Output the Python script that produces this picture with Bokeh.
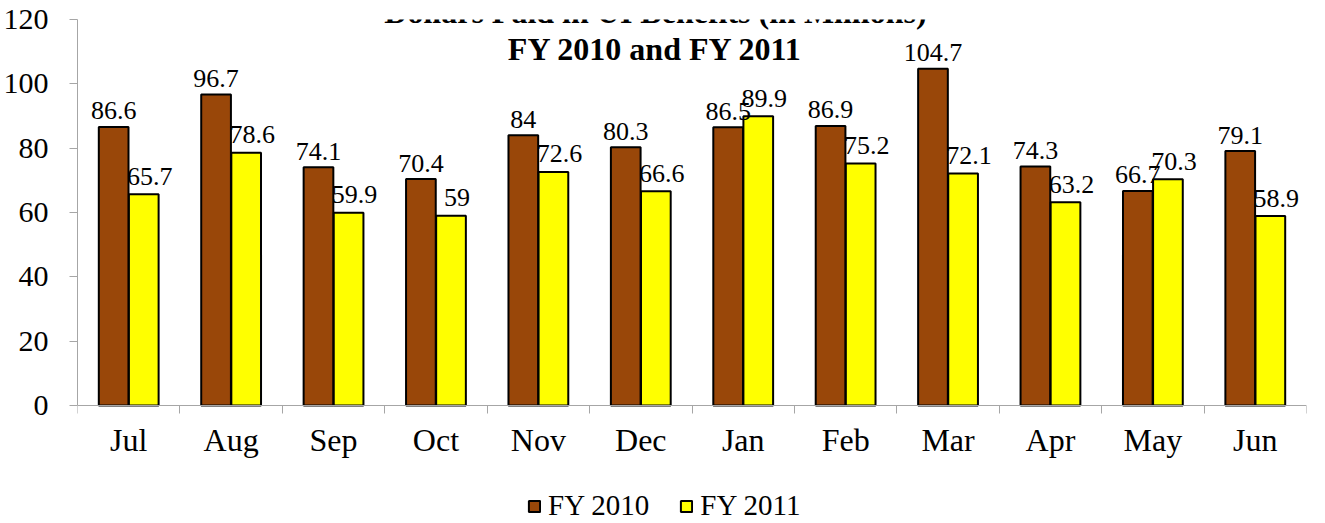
import numpy as np
from bokeh.plotting import figure
from bokeh.models import (ColumnDataSource, Range1d, FixedTicker, Label, Legend,
                          LegendItem)
from bokeh.core.properties import value
from bokeh.embed import file_html
from bokeh.resources import INLINE

months = ["Jul", "Aug", "Sep", "Oct", "Nov", "Dec", "Jan", "Feb", "Mar", "Apr", "May", "Jun"]
fy2010 = [86.6, 96.7, 74.1, 70.4, 84, 80.3, 86.5, 86.9, 104.7, 74.3, 66.7, 79.1]
fy2011 = [65.7, 78.6, 59.9, 59, 72.6, 66.6, 89.9, 75.2, 72.1, 63.2, 70.3, 58.9]
series_names = ["FY 2010", "FY 2011"]
title_lines = ["Dollars Paid in UI Benefits (in Millions)", "FY 2010 and FY 2011"]
y_ticks = [0, 20, 40, 60, 80, 100, 120]

FONT = "Liberation Serif"
C2010 = "#994709"
C2011 = "#FFFF00"
AXIS_C = "#A6A6A6"

W, H = 1325, 523
TOP, LEFT, RIGHT = 19, 77, 19
AXIS_Y = 405          # pixel row of the value-0 line
y_max = y_ticks[-1]
# extend the frame below 0 so the legend sits inside it
y_min = -y_max * (H - AXIS_Y) / (AXIS_Y - TOP)

n = len(months)
centers = np.arange(n) + 0.5
off = 0.147
bw = 0.29

src10 = ColumnDataSource(dict(x=centers - off, top=fy2010,
                              lab=[f"{v:g}" for v in fy2010]))
src11 = ColumnDataSource(dict(x=centers + off, top=fy2011,
                              lab=[f"{v:g}" for v in fy2011]))

p = figure(width=W, height=H, output_backend="svg", toolbar_location=None,
           x_range=Range1d(0, n), y_range=Range1d(y_min, y_max),
           min_border_left=LEFT, min_border_right=RIGHT, min_border_top=TOP,
           min_border_bottom=0)
p.outline_line_color = None
p.grid.visible = False
p.background_fill_color = "white"

r10 = p.vbar(x="x", top="top", width=bw, bottom=0, source=src10,
             fill_color=C2010, line_color="black", line_width=2)
r11 = p.vbar(x="x", top="top", width=bw, bottom=0, source=src11,
             fill_color=C2011, line_color="black", line_width=2)

p.text(x="x", y="top", text="lab", source=src10, text_align="center",
       text_baseline="alphabetic", y_offset=-16,
       text_font=value(FONT), text_font_size="26px", text_color="black")
p.text(x="x", y="top", text="lab", source=src11, text_align="center",
       text_baseline="alphabetic", y_offset=-18, x_offset=6,
       text_font=value(FONT), text_font_size="26px", text_color="black")

# axes
xa = p.xaxis[0]
xa.fixed_location = 0
xa.ticker = FixedTicker(ticks=list(centers), minor_ticks=list(range(n + 1)))
xa.major_label_overrides = {float(c): m for c, m in zip(centers, months)}
xa.major_tick_out = 0
xa.major_tick_in = 0
xa.minor_tick_out = 8
xa.minor_tick_in = 0
xa.minor_tick_line_color = AXIS_C
xa.axis_line_color = AXIS_C
xa.major_label_standoff = 8
xa.major_label_text_font = FONT
xa.major_label_text_font_size = "32px"
xa.major_label_text_color = "black"

ya = p.yaxis[0]
ya.bounds = (0, y_max)
ya.ticker = FixedTicker(ticks=y_ticks, minor_ticks=[])
ya.major_tick_out = 8
ya.major_tick_in = 0
ya.major_tick_line_color = AXIS_C
ya.axis_line_color = AXIS_C
ya.major_label_standoff = 21
ya.major_label_text_font = FONT
ya.major_label_text_font_size = "30px"
ya.major_label_text_color = "black"

# title (overlaps plot area as in the original)
tx = n / 2 - 0.357
p.add_layout(Label(x=tx, y=122.2, text=title_lines[0], text_align="center",
                   text_baseline="alphabetic", text_font=FONT, text_font_size="32px",
                   text_font_style="bold", text_color="black"))
p.add_layout(Label(x=tx, y=110.7, text=title_lines[1], text_align="center",
                   text_baseline="alphabetic", text_font=FONT, text_font_size="32px",
                   text_font_style="bold", text_color="black"))

legend = Legend(items=[LegendItem(label=series_names[0], renderers=[r10]),
                       LegendItem(label=series_names[1], renderers=[r11])],
                orientation="horizontal", location=(450, 1),
                label_text_font=FONT, label_text_font_size="29px",
                label_text_color="black", glyph_width=14, glyph_height=14,
                label_standoff=7, spacing=30, padding=0, margin=0,
                border_line_color=None, background_fill_alpha=0)
p.add_layout(legend, "center")

open("out.html", "w").write(file_html(p, INLINE))
